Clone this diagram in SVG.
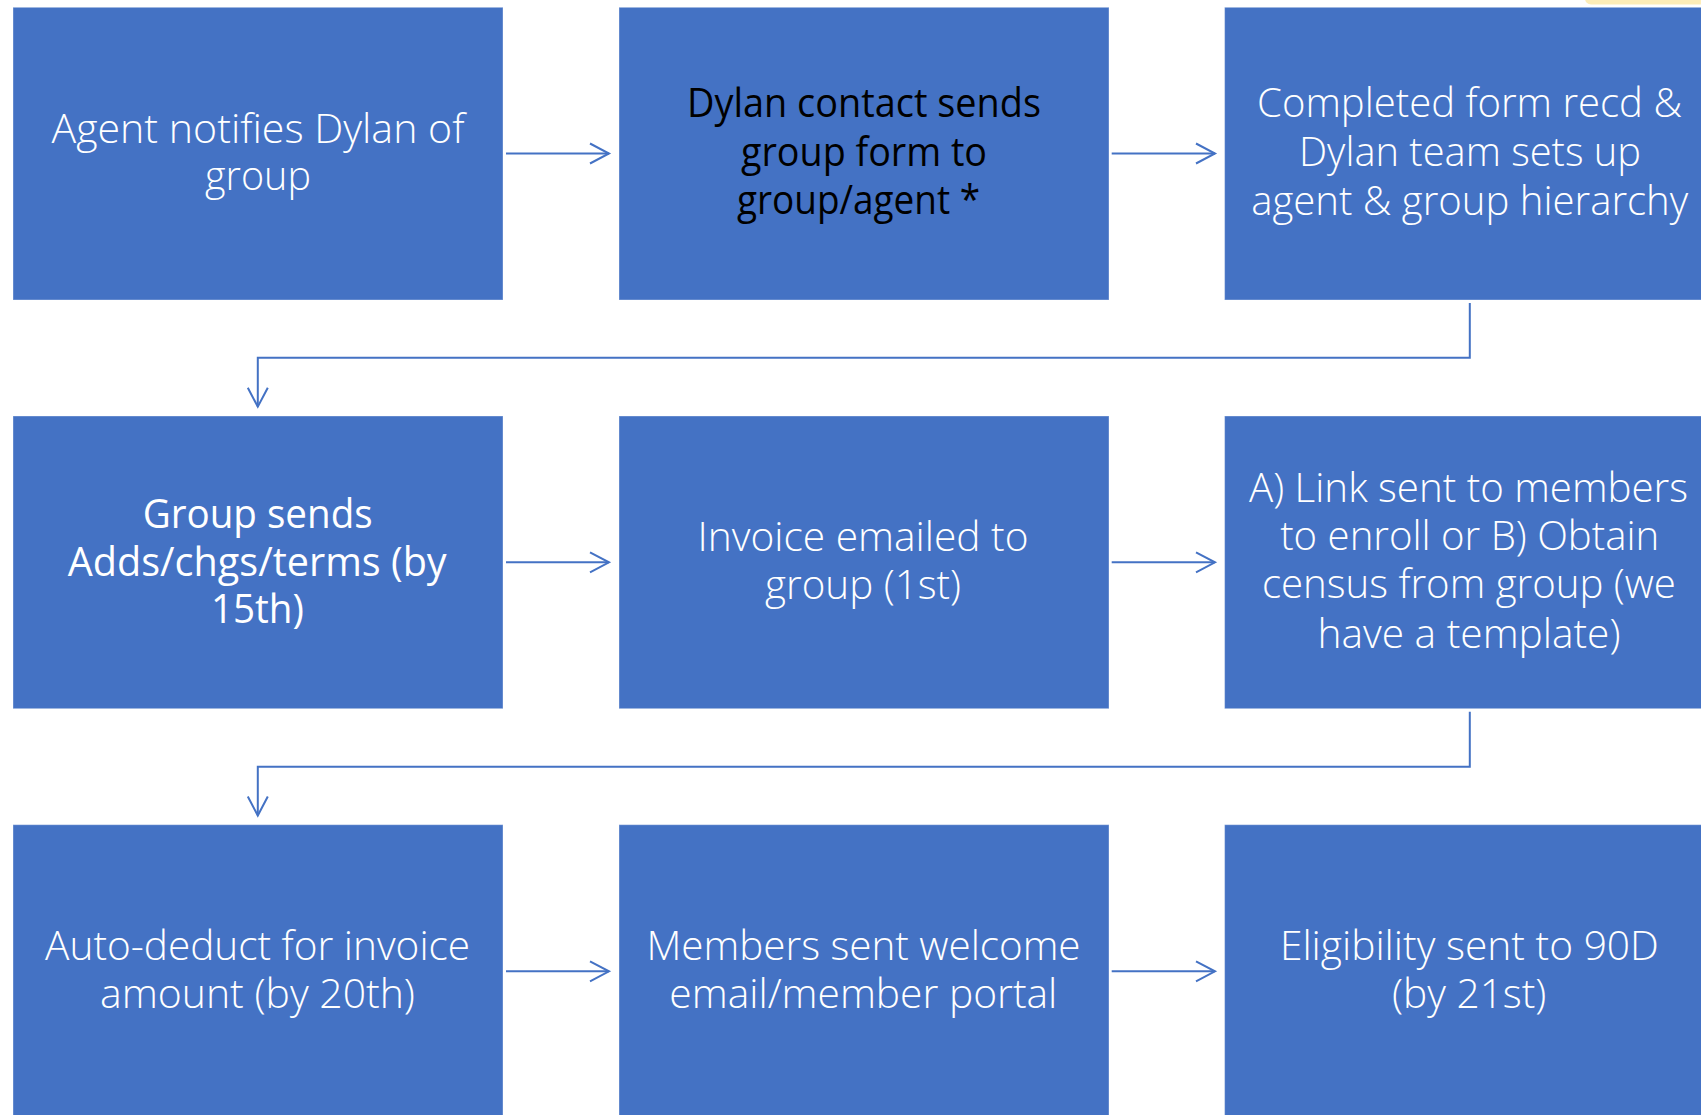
<svg xmlns="http://www.w3.org/2000/svg" width="1701" height="1115" viewBox="0 0 1701 1115">
<style>
.box{fill:#4472C4;stroke:#ffffff;stroke-opacity:0.35;stroke-width:1}
.lt{font-family:"Open Sans","Liberation Sans",sans-serif;font-weight:300;font-size:41px;fill:#ffffff;text-anchor:middle}
.rg{font-family:"Open Sans","Liberation Sans",sans-serif;font-weight:400;font-size:40px;fill:#ffffff;text-anchor:middle}
.dk{fill:#000000}
.conn{fill:none;stroke:#4472C4;stroke-width:2}
</style>
<defs>
<marker id="arr" markerUnits="userSpaceOnUse" markerWidth="30" markerHeight="30" viewBox="-25 -15 30 30" refX="0" refY="0" orient="auto">
<path d="M-19 -10 L0 0 L-19 10" fill="none" stroke="#4472C4" stroke-width="2"/>
</marker>
</defs>
<rect x="1585" y="-20" width="140" height="24.5" rx="6" fill="#FDEDB8"/>
<g id="connectors">
<path class="conn" d="M506 153.5 H609" marker-end="url(#arr)"/>
<path class="conn" d="M1111.7 153.5 H1215" marker-end="url(#arr)"/>
<path class="conn" d="M1469.8 303 V357.7 H257.8 V406.7" marker-end="url(#arr)"/>
<path class="conn" d="M506 562.3 H609" marker-end="url(#arr)"/>
<path class="conn" d="M1111.7 562.3 H1215" marker-end="url(#arr)"/>
<path class="conn" d="M1469.8 711.7 V766.7 H257.8 V815.5" marker-end="url(#arr)"/>
<path class="conn" d="M506 971.3 H609" marker-end="url(#arr)"/>
<path class="conn" d="M1111.7 971.3 H1215" marker-end="url(#arr)"/>
</g>
<g id="n1">
<rect class="box" x="13" y="7.3" width="490" height="292.7"/>
<text class="lt"><tspan x="258" y="142.7" textLength="413" lengthAdjust="spacingAndGlyphs">Agent notifies Dylan of</tspan><tspan x="258" y="190" textLength="106" lengthAdjust="spacingAndGlyphs">group</tspan></text>
</g>
<g id="n2">
<rect class="box" x="619" y="7.3" width="490" height="292.7"/>
<text class="rg dk"><tspan x="864" y="116.7" textLength="354" lengthAdjust="spacingAndGlyphs">Dylan contact sends</tspan><tspan x="864" y="165.5" textLength="246" lengthAdjust="spacingAndGlyphs">group form to</tspan><tspan x="858.5" y="214" textLength="243" lengthAdjust="spacingAndGlyphs">group/agent *</tspan></text>
</g>
<g id="n3">
<rect class="box" x="1224.6" y="7.3" width="490" height="292.7"/>
<text class="lt"><tspan x="1469.5" y="116.7" textLength="425" lengthAdjust="spacingAndGlyphs">Completed form recd &amp;</tspan><tspan x="1470" y="166.3" textLength="342" lengthAdjust="spacingAndGlyphs">Dylan team sets up</tspan><tspan x="1469.7" y="215" textLength="437" lengthAdjust="spacingAndGlyphs">agent &amp; group hierarchy</tspan></text>
</g>
<g id="n4">
<rect class="box" x="13" y="416" width="490" height="292.7"/>
<text class="rg"><tspan x="257.7" y="528" textLength="230" lengthAdjust="spacingAndGlyphs">Group sends</tspan><tspan x="257.2" y="575.5" textLength="379" lengthAdjust="spacingAndGlyphs">Adds/chgs/terms (by</tspan><tspan x="257.4" y="623" textLength="93" lengthAdjust="spacingAndGlyphs">15th)</tspan></text>
</g>
<g id="n5">
<rect class="box" x="619" y="416" width="490" height="292.7"/>
<text class="lt"><tspan x="863" y="551.4" textLength="331" lengthAdjust="spacingAndGlyphs">Invoice emailed to</tspan><tspan x="863" y="598.7" textLength="196" lengthAdjust="spacingAndGlyphs">group (1st)</tspan></text>
</g>
<g id="n6">
<rect class="box" x="1224.6" y="416" width="490" height="292.7"/>
<text class="lt"><tspan x="1468.5" y="501.7" textLength="439" lengthAdjust="spacingAndGlyphs">A) Link sent to members</tspan><tspan x="1469.7" y="550" textLength="379" lengthAdjust="spacingAndGlyphs">to enroll or B) Obtain</tspan><tspan x="1468.9" y="598.3" textLength="414" lengthAdjust="spacingAndGlyphs">census from group (we</tspan><tspan x="1469" y="648.3" textLength="303" lengthAdjust="spacingAndGlyphs">have a template)</tspan></text>
</g>
<g id="n7">
<rect class="box" x="13" y="824.7" width="490" height="300"/>
<text class="lt"><tspan x="257.6" y="959.5" textLength="425" lengthAdjust="spacingAndGlyphs">Auto-deduct for invoice</tspan><tspan x="257.5" y="1008" textLength="315" lengthAdjust="spacingAndGlyphs">amount (by 20th)</tspan></text>
</g>
<g id="n8">
<rect class="box" x="619" y="824.7" width="490" height="300"/>
<text class="lt"><tspan x="863.5" y="959.5" textLength="434" lengthAdjust="spacingAndGlyphs">Members sent welcome</tspan><tspan x="863.3" y="1008" textLength="388" lengthAdjust="spacingAndGlyphs">email/member portal</tspan></text>
</g>
<g id="n9">
<rect class="box" x="1224.6" y="824.7" width="490" height="300"/>
<text class="lt"><tspan x="1469.4" y="959.5" textLength="379" lengthAdjust="spacingAndGlyphs">Eligibility sent to 90D</tspan><tspan x="1469.2" y="1008" textLength="154.5" lengthAdjust="spacingAndGlyphs">(by 21st)</tspan></text>
</g>
</svg>
